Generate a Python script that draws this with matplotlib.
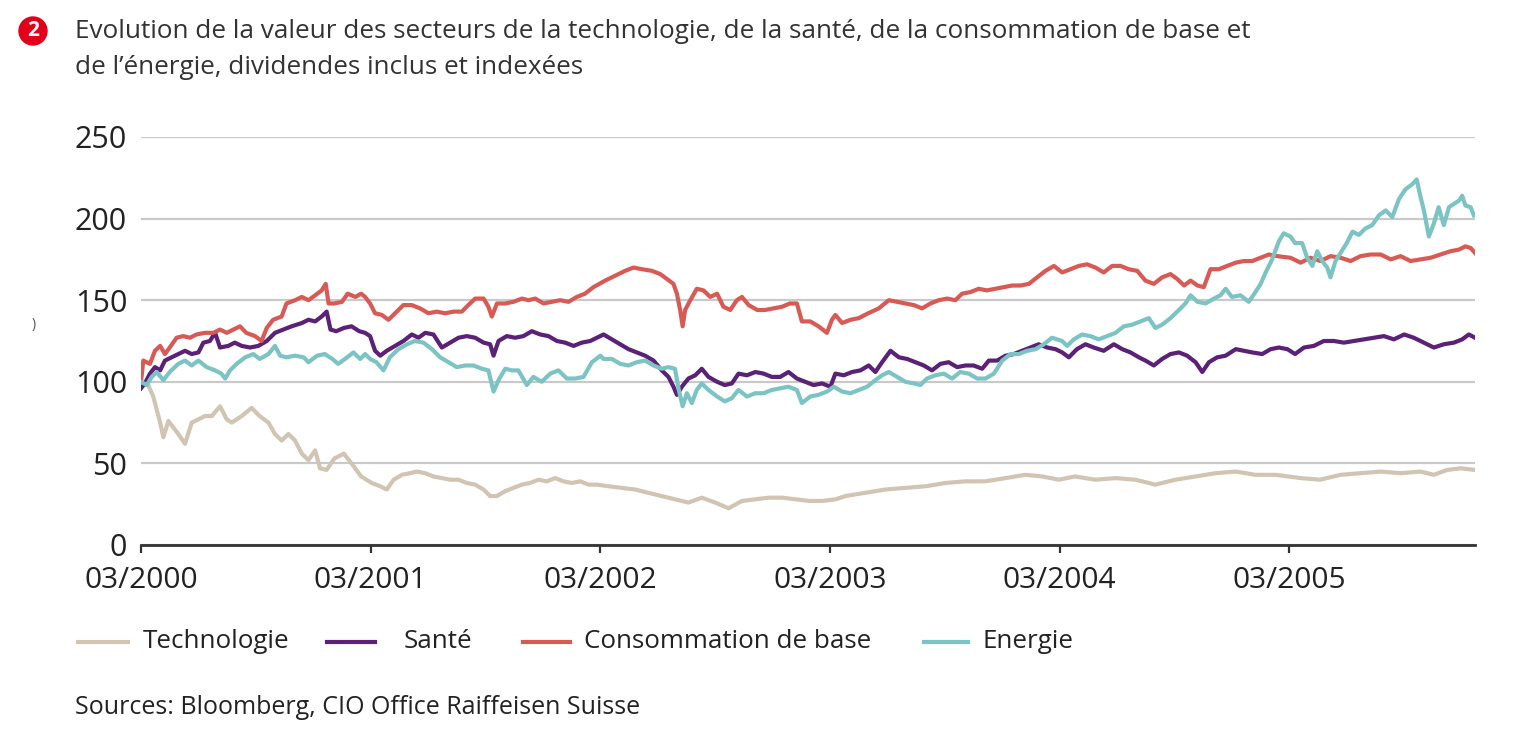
import numpy as np
import matplotlib
matplotlib.use('Agg')
import matplotlib.pyplot as plt
from matplotlib.lines import Line2D
from matplotlib.patches import Circle
from matplotlib.transforms import IdentityTransform

# months since 03/2000, values indexed (start = 100)
tech_m = [0, 0.38, 0.64, 0.82, 1.0, 1.17, 1.43, 1.69, 1.95, 2.3, 2.65, 3.0, 3.34, 3.7, 4.13, 4.48, 4.74,
          5.26, 5.78, 6.2, 6.66, 7.0, 7.35, 7.7, 8.05, 8.4, 8.75, 9.1, 9.35, 9.7, 10.1, 10.6, 11.0, 11.5,
          12.06, 12.5, 12.84, 13.2, 13.63, 14.06, 14.41, 14.85, 15.28, 15.72, 16.15, 16.59, 17.02, 17.46,
          17.9, 18.24, 18.59, 19.03, 19.46, 19.9, 20.33, 20.77, 21.2, 21.64, 22.08, 22.5, 22.95, 23.38,
          23.82, 24.43, 25.12, 25.82, 26.5, 27.2, 27.9, 28.6, 29.3, 30.0, 30.7, 31.4, 32.1, 32.8, 33.5,
          34.2, 34.9, 35.6, 36.3, 36.8, 37.85, 38.9, 39.94, 41.0, 42.03, 43.08, 44.1, 45.17, 46.2, 47.1,
          47.95, 48.8, 49.87, 50.92, 51.96, 53.0, 54.05, 55.1, 56.14, 57.2, 58.23, 59.28, 60.6, 61.6,
          62.68, 63.72, 64.77, 65.81, 66.86, 67.55, 68.25, 68.95, 69.7]
tech_v = [98, 98, 91, 83, 75, 66, 76, 72, 68, 62, 75, 77, 79, 79, 85, 77, 75,
          79, 84, 79, 75, 68, 64, 68, 64, 56, 52, 58, 47, 46, 53, 56, 50, 42,
          38, 36, 34, 40, 43, 44, 45, 44, 42, 41, 40, 40, 38, 37,
          34, 30, 30, 33, 35, 37, 38, 40, 39, 41, 39, 38, 39, 37,
          37, 36, 35, 34, 32, 30, 28, 26, 29, 26, 22.5, 27, 28, 29, 29,
          28, 27, 27, 28, 30, 32, 34, 35, 36, 38, 39, 39, 41, 43, 42,
          40, 42, 40, 41, 40, 37, 40, 42, 44, 45, 43, 43, 41, 40,
          43, 44, 45, 44, 45, 43, 46, 47, 46]

sante_m = [0, 0.2, 0.47, 0.73, 1.0, 1.25, 1.6, 1.95, 2.3, 2.65, 3.0, 3.26, 3.6, 3.87, 4.13, 4.56, 4.9,
           5.26, 5.7, 6.13, 6.57, 7.0, 7.44, 7.87, 8.4, 8.75, 9.1, 9.44, 9.7, 9.9, 10.2, 10.6, 11.0, 11.4,
           11.71, 11.97, 12.23, 12.5, 12.84, 13.28, 13.71, 14.15, 14.5, 14.85, 15.28, 15.72, 16.15, 16.59,
           17.02, 17.46, 17.9, 18.24, 18.42, 18.68, 19.11, 19.55, 19.98, 20.42, 20.86, 21.29, 21.73, 22.16,
           22.6, 23.03, 23.47, 24.17, 24.6, 25.04, 25.47, 25.9, 26.34, 26.78, 27.21, 27.56, 27.82, 28.0,
           28.26, 28.6, 28.96, 29.3, 29.65, 30.1, 30.5, 30.87, 31.22, 31.66, 32.1, 32.53, 32.96, 33.4,
           33.83, 34.27, 34.7, 35.14, 35.58, 36.02, 36.28, 36.72, 37.15, 37.59, 38.02, 38.37, 38.72, 39.16,
           39.6, 40.03, 40.46, 40.9, 41.33, 41.77, 42.2, 42.64, 43.08, 43.5, 43.95, 44.3, 44.73, 45.17,
           45.6, 46.04, 46.47, 46.9, 47.35, 47.78, 48.13, 48.48, 48.9, 49.35, 49.78, 50.3, 50.83, 51.27,
           51.7, 52.14, 52.48, 52.92, 53.35, 53.79, 54.23, 54.66, 55.1, 55.45, 55.8, 56.23, 56.67, 57.2,
           57.62, 58.06, 58.58, 59.02, 59.45, 59.9, 60.3, 60.76, 61.28, 61.8, 62.33, 62.85, 63.37, 63.9,
           64.42, 64.94, 65.46, 66.0, 66.5, 67.03, 67.55, 68.07, 68.6, 69.03, 69.38, 69.7]
sante_v = [96, 99, 105, 109, 107, 113, 115, 117, 119, 117, 118, 124, 125, 130, 121, 122, 124,
           122, 121, 122, 125, 130, 132, 134, 136, 138, 137, 140, 143, 132, 131, 133, 134, 131,
           130, 128, 119, 116, 119, 122, 125, 129, 127, 130, 129, 121, 124, 127,
           128, 127, 124, 123, 116, 125, 128, 127, 128, 131, 129, 128, 125, 124,
           122, 124, 125, 129, 126, 123, 120, 118, 116, 113, 107, 103, 97, 92,
           97, 102, 104, 108, 103, 100, 98, 99, 105, 104, 106, 105, 103, 103,
           106, 102, 100, 98, 99, 97, 105, 104, 106, 107, 110, 106, 112, 119,
           115, 114, 112, 110, 107, 111, 112, 109, 110, 110, 108, 113, 113, 116,
           117, 119, 121, 123, 121, 120, 118, 115, 120, 123, 121, 119, 123, 120,
           118, 115, 113, 110, 114, 117, 118, 116, 112, 106, 112, 115, 116, 120,
           119, 118, 117, 120, 121, 120, 117, 121, 122, 125, 125, 124, 125, 126,
           127, 128, 126, 129, 127, 124, 121, 123, 124, 126, 129, 127]

conso_m = [0, 0.12, 0.47, 0.73, 1.0, 1.25, 1.5, 1.86, 2.2, 2.56, 2.9, 3.34, 3.78, 4.13, 4.48, 4.83, 5.17,
           5.5, 5.96, 6.3, 6.57, 6.9, 7.35, 7.6, 8.05, 8.4, 8.75, 9.1, 9.44, 9.65, 9.8, 10.1, 10.5, 10.8,
           11.2, 11.5, 11.71, 11.97, 12.23, 12.58, 12.93, 13.28, 13.71, 14.15, 14.58, 15.02, 15.45, 15.89,
           16.33, 16.76, 17.1, 17.46, 17.9, 18.15, 18.33, 18.6, 19.03, 19.46, 19.9, 20.25, 20.6, 21.03,
           21.47, 21.9, 22.34, 22.77, 23.2, 23.64, 24.25, 24.77, 25.3, 25.73, 26.17, 26.69, 27.13, 27.48,
           27.82, 28.0, 28.17, 28.3, 28.43, 28.7, 29.04, 29.39, 29.74, 30.1, 30.43, 30.79, 31.13, 31.4,
           31.75, 32.2, 32.6, 33.05, 33.5, 33.9, 34.27, 34.53, 34.97, 35.4, 35.84, 36.1, 36.28, 36.63,
           37.07, 37.5, 38.0, 38.55, 39.07, 39.5, 39.94, 40.38, 40.81, 41.25, 41.68, 42.12, 42.55, 42.9,
           43.34, 43.77, 44.2, 44.65, 45.08, 45.52, 45.95, 46.39, 46.82, 47.26, 47.7, 48.13, 48.56, 49.0,
           49.43, 49.87, 50.3, 50.74, 51.18, 51.6, 52.05, 52.48, 52.92, 53.35, 53.79, 54.14, 54.5, 54.84,
           55.2, 55.53, 55.88, 56.32, 56.75, 57.2, 57.62, 58.06, 58.5, 58.93, 59.37, 60.06, 60.59, 61.1,
           61.63, 62.15, 62.68, 63.2, 63.72, 64.24, 64.77, 65.3, 65.81, 66.33, 66.86, 67.38, 67.9, 68.42,
           68.86, 69.2, 69.47, 69.7]
conso_v = [100, 113, 111, 119, 122, 117, 121, 127, 128, 127, 129, 130, 130, 132, 130, 132, 134,
           130, 128, 125, 133, 138, 140, 148, 150, 152, 150, 153, 156, 160, 148, 148, 149, 154,
           152, 154, 152, 148, 142, 141, 138, 142, 147, 147, 145, 142, 143, 142,
           143, 143, 147, 151, 151, 146, 140, 148, 148, 149, 151, 150, 151, 148,
           149, 150, 149, 152, 154, 158, 162, 165, 168, 170, 169, 168, 166, 163,
           160, 154, 144, 134, 144, 150, 157, 156, 152, 154, 146, 144, 150, 152,
           147, 144, 144, 145, 146, 148, 148, 137, 137, 134, 130, 138, 141, 136,
           138, 139, 142, 145, 150, 149, 148, 147, 145, 148, 150, 151, 150, 154,
           155, 157, 156, 157, 158, 159, 159, 160, 164, 168, 171, 167, 169, 171,
           172, 170, 167, 171, 171, 169, 168, 162, 160, 164, 166, 163, 159, 162,
           159, 158, 169, 169, 171, 173, 174, 174, 176, 178, 177, 176, 173, 176,
           174, 177, 176, 174, 177, 178, 178, 175, 177, 174, 175, 176, 178, 180,
           181, 183, 182, 179]

energie_m = [0, 0.3, 0.56, 0.82, 1.17, 1.5, 1.95, 2.3, 2.65, 3.0, 3.43, 3.87, 4.2, 4.4, 4.65, 5.0, 5.44,
             5.87, 6.2, 6.66, 7.0, 7.27, 7.6, 8.05, 8.5, 8.75, 9.2, 9.6, 10.0, 10.3, 10.66, 11.1, 11.45,
             11.71, 11.97, 12.3, 12.67, 13.0, 13.45, 13.9, 14.3, 14.76, 15.2, 15.63, 16.07, 16.5, 16.94,
             17.37, 17.81, 18.15, 18.42, 18.68, 19.03, 19.38, 19.72, 20.16, 20.5, 20.94, 21.38, 21.81, 22.25,
             22.69, 23.12, 23.56, 24.0, 24.17, 24.6, 25.04, 25.47, 25.9, 26.34, 26.78, 27.21, 27.56, 27.9,
             28.1, 28.3, 28.52, 28.78, 29.04, 29.3, 29.65, 30.1, 30.5, 30.87, 31.22, 31.66, 32.1, 32.53,
             32.96, 33.4, 33.83, 34.27, 34.53, 34.97, 35.4, 35.84, 36.2, 36.63, 37.07, 37.5, 37.94, 38.37,
             38.72, 39.07, 39.5, 39.94, 40.38, 40.72, 41.07, 41.5, 41.94, 42.38, 42.8, 43.25, 43.69, 44.12,
             44.56, 45.0, 45.43, 45.86, 46.3, 46.74, 47.17, 47.6, 48.13, 48.39, 48.74, 49.17, 49.6, 50.04,
             50.48, 50.92, 51.35, 51.79, 52.22, 52.66, 53.0, 53.35, 53.79, 54.23, 54.57, 54.84, 55.2, 55.62,
             56.06, 56.4, 56.67, 57.0, 57.45, 57.88, 58.23, 58.5, 58.76, 59.1, 59.45, 59.7, 60.06, 60.3,
             60.67, 60.93, 61.2, 61.46, 61.72, 61.98, 62.15, 62.41, 62.68, 63.0, 63.3, 63.63, 63.98, 64.33,
             64.68, 65.03, 65.38, 65.73, 66.07, 66.42, 66.65, 66.86, 67.03, 67.29, 67.55, 67.8, 68.07, 68.34,
             68.6, 68.86, 69.03, 69.2, 69.47, 69.64]
energie_v = [100, 98, 103, 106, 101, 106, 111, 113, 110, 113, 109, 107, 105, 102, 107, 111, 115,
             117, 114, 117, 122, 116, 115, 116, 115, 112, 116, 117, 114, 111, 114, 118, 114,
             117, 114, 112, 107, 115, 120, 123, 125, 124, 120, 115, 112, 109, 110,
             110, 108, 107, 94, 101, 108, 107, 107, 98, 103, 100, 105, 107, 102,
             102, 103, 112, 116, 114, 114, 111, 110, 112, 113, 110, 108, 109, 108,
             95, 85, 93, 87, 95, 99, 95, 91, 88, 90, 95, 91, 93, 93,
             95, 96, 97, 95, 87, 91, 92, 94, 97, 94, 93, 95, 97, 101,
             104, 106, 103, 100, 99, 98, 102, 104, 105, 102, 106, 105, 102, 102,
             105, 113, 117, 117, 119, 120, 123, 127, 125, 122, 126, 129, 128, 126,
             128, 130, 134, 135, 137, 139, 133, 135, 139, 144, 148, 153, 149, 148,
             151, 153, 157, 152, 153, 149, 155, 160, 167, 175, 186, 191, 189, 185,
             185, 176, 171, 180, 174, 170, 164, 174, 179, 185, 192, 190, 194, 196,
             202, 205, 201, 212, 218, 221, 224, 213, 205, 189, 197, 207, 196, 207,
             209, 211, 214, 208, 207, 202]

names = ['Technologie', 'Santé', 'Consommation de base', 'Energie']
colors = ['#d2c4b3', '#5a2176', '#d85a55', '#7cc4c3']
series = [(tech_m, tech_v), (sante_m, sante_v), (conso_m, conso_v), (energie_m, energie_v)]

tick_pos = [0, 12, 24, 36, 48, 60]
tick_labels = ['03/2000', '03/2001', '03/2002', '03/2003', '03/2004', '03/2005']

plt.rcParams['font.family'] = ['Open Sans', 'DejaVu Sans']

W, H = 1530, 744
fig = plt.figure(figsize=(W / 100, H / 100), dpi=100)
ax = fig.add_axes([141 / W, (H - 545) / H, (1475 - 141) / W, (545 - 137) / H])

for (m, v), c in zip(series, colors):
    ax.plot(m, v, color=c, lw=3.0, solid_joinstyle='round')

ax.set_xlim(0, 69.7)
ax.set_ylim(0, 250)
ax.set_yticks([0, 50, 100, 150, 200, 250])
ax.set_xticks(tick_pos)
ax.set_xticklabels(tick_labels)
ax.grid(axis='y', color='#c9c9c9', lw=1.6)
ax.set_axisbelow(True)
for s in ['top', 'right', 'left']:
    ax.spines[s].set_visible(False)
ax.spines['bottom'].set_color('#333333')
ax.spines['bottom'].set_linewidth(2.0)
ax.spines['bottom'].set_zorder(5)
ax.tick_params(axis='y', length=0, pad=10, labelsize=22, labelcolor='#222222')
ax.tick_params(axis='x', length=6, width=1.6, color='#333333', direction='out',
               pad=9, labelsize=21.5, labelcolor='#222222')

def fx(px):
    return px / W

def fy(py):
    return 1 - py / H

# numbered badge (pixel coords, so it stays round) and title
fig.add_artist(Circle((33, H - 31), 14, transform=IdentityTransform(),
                      color='#e2001a', zorder=3))
fig.text(fx(33), fy(31), '2', color='white', fontsize=15, fontweight='bold',
         ha='center', va='center', zorder=4)
fig.text(fx(75), fy(31), 'Evolution de la valeur des secteurs de la technologie, de la santé, '
         'de la consommation de base et', fontsize=18.8, color='#333333', va='center')
fig.text(fx(75), fy(68), 'de l’énergie, dividendes inclus et indexées',
         fontsize=18.8, color='#333333', va='center')
fig.text(fx(32), fy(325), ')', fontsize=10, color='#555555', va='center')

# legend
leg_x = [(78, 128, 143), (327, 375, 404), (523, 570, 584), (924, 968, 982)]
for (x0, x1, xt), name, c in zip(leg_x, names, colors):
    fig.add_artist(Line2D([fx(x0), fx(x1)], [fy(642), fy(642)], color=c, lw=3.0,
                          transform=fig.transFigure))
    fig.text(fx(xt), fy(642), name, fontsize=18.7, color='#222222', va='center')

fig.text(fx(75), fy(708), 'Sources: Bloomberg, CIO Office Raiffeisen Suisse',
         fontsize=18, color='#222222', va='center')

fig.savefig('out.png', dpi=100, facecolor='white')
